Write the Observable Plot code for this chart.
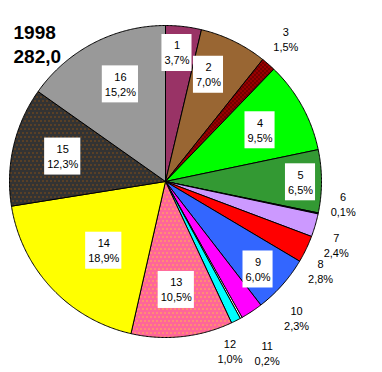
<!DOCTYPE html>
<html><head><meta charset="utf-8">
<script src="https://cdn.jsdelivr.net/npm/d3@7"></script>
<script src="https://cdn.jsdelivr.net/npm/@observablehq/plot@0.6"></script>
<style>html,body{margin:0;padding:0;background:#fff} svg{display:block}</style>
</head><body><div id="chart"></div>
<script>
// ---- data ----
const year = "1998";
const total = "282,0";
const categories = ["1","2","3","4","5","6","7","8","9","10","11","12","13","14","15","16"];
const shares = [3.7, 7.0, 1.5, 9.5, 6.5, 0.1, 2.4, 2.8, 6.0, 2.3, 0.2, 1.0, 10.5, 18.9, 12.3, 15.2];
const shareLabels = ["3,7%","7,0%","1,5%","9,5%","6,5%","0,1%","2,4%","2,8%","6,0%","2,3%","0,2%","1,0%","10,5%","18,9%","12,3%","15,2%"];

// ---- styles / layout ----
const sliceFills = ["#993366","#996633","url(#pat3)","#00FF00","#339933","#000080","#CC99FF","#FF0000",
                    "#3366FF","#FF00FF","#FFFFFF","#00FFFF","url(#pat13)","#FFFF00","url(#pat15)","#999999"];
const insideLabel = [true,true,false,true,true,false,false,false,true,false,false,false,true,true,true,true];
const labelRadius = [130,116,187,108,135,179,182,179,127,189,199,181,108,92,106,108];
const labelShift  = [-1.6,-4.2,-1.2,0,0,-4.8,4,4.3,1.7,-10.4,-1.7,6,0.4,-4.7,1.1,2.7];
const W = 382, H = 372, CX = 165, CY = 181, R = 156;
const FONT = "Arial, 'Liberation Sans', sans-serif";

const sum = d3.sum(shares);
let acc = 0;
const slices = shares.map((v, i) => {
  const a0 = acc / sum * 2 * Math.PI;
  acc += v;
  const a1 = acc / sum * 2 * Math.PI;
  return {i, a0, a1, mid: (a0 + a1) / 2};
});
function pt(a, r) { return {x: r * Math.sin(a), y: -r * Math.cos(a)}; }
const slicePts = slices.map(s => {
  const pts = [{x: 0, y: 0}];
  const n = Math.max(2, Math.ceil((s.a1 - s.a0) / (Math.PI / 360)));
  for (let k = 0; k <= n; k++) pts.push(pt(s.a0 + (s.a1 - s.a0) * k / n, R));
  pts.push({x: 0, y: 0});
  return pts;
});

const ctx = document.createElement("canvas").getContext("2d");
ctx.font = "11px " + FONT;
const labels = slices.map(s => {
  const a = s.mid + labelShift[s.i] * Math.PI / 180;
  const p = pt(a, labelRadius[s.i]);
  const w = Math.max(ctx.measureText(categories[s.i]).width, ctx.measureText(shareLabels[s.i]).width);
  return {x: p.x, y: p.y, text: categories[s.i] + "\n" + shareLabels[s.i], inside: insideLabel[s.i], w};
});
const boxes = labels.filter(d => d.inside);

function defs() {
  const d = d3.create("svg:defs");
  const mk = (id, bg, dot, w, h, dots) => {
    const p = d.append("pattern").attr("id", id).attr("patternUnits", "userSpaceOnUse")
      .attr("width", w).attr("height", h);
    p.append("rect").attr("width", w).attr("height", h).attr("fill", bg);
    dots.forEach(([x, y]) => p.append("rect").attr("x", x).attr("y", y).attr("width", 1).attr("height", 1).attr("fill", dot));
  };
  mk("pat3", "#990000", "#000000", 4, 4, [[0,0],[2,2]]);
  mk("pat13", "#FF6699", "#FFFF00", 4, 8, [[0,0],[2,4]]);
  mk("pat15", "#333333", "#CC6600", 4, 8, [[0,0],[2,4]]);
  return d.node();
}

const chart = Plot.plot({
  width: W, height: H,
  margin: 0,
  x: {domain: [-CX, W - CX], range: [0, W], axis: null},
  y: {domain: [-CY, H - CY], range: [0, H], axis: null},
  style: {fontFamily: FONT, background: "white"},
  marks: [
    defs,
    ...slicePts.map((pts, i) => Plot.line(pts, {x: "x", y: "y", fill: sliceFills[i], stroke: "black", strokeWidth: 1})),
    Plot.rect(boxes, {x1: d => d.x - d.w / 2 - 2.5, x2: d => d.x + d.w / 2 + 2.5,
                      y1: d => d.y - 17.5, y2: d => d.y + 19.5, fill: "white"}),
    Plot.text(labels, {x: "x", y: "y", text: "text", fontSize: 11, lineHeight: 15 / 11,
                       lineAnchor: "middle", textAnchor: "middle", fill: "black"}),
    Plot.text([year + "\n" + total], {text: d => d, frameAnchor: "top-left", dx: 13, dy: 21,
                       lineAnchor: "top", textAnchor: "start", fontSize: 19, fontWeight: "bold",
                       lineHeight: 24 / 19, fill: "black"})
  ]
});
document.getElementById("chart").append(chart);
</script>
</body></html>
